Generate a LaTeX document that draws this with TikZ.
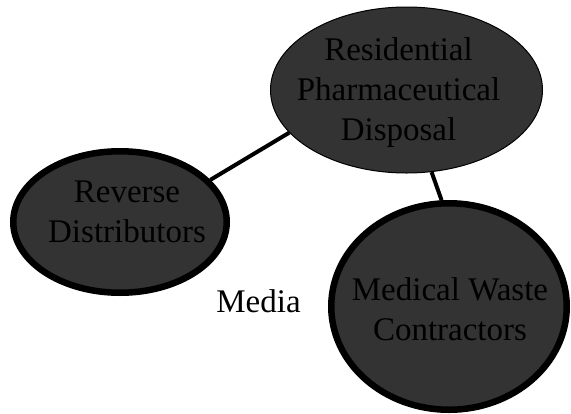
\documentclass[tikz,border=0pt]{standalone}
\usepackage{fontspec}
\setmainfont{Liberation Serif}
\newfontfamily\bubblefont{Liberation Serif}
\usepackage{tikz}
\usetikzlibrary{positioning, shapes.geometric}
\usepackage{xcolor}
\definecolor{bubblegray}{RGB}{51,51,51}

\begin{document}
\begin{tikzpicture}[x=1pt,y=-1pt,
    bubble/.style={ellipse,draw=black,fill=bubblegray,inner sep=0pt},
    bubbletext/.style={align=center,font=\bubblefont\fontsize{33}{40}\selectfont,inner sep=0pt}]
    \useasboundingbox (0,0) rectangle (571,413);

    \node[bubble,line width=1pt,minimum width=272pt,minimum height=166pt] (res) at (406.5,90) {};
    \node[bubbletext] (labelres) at (398.5,92.5) {Residential\\Pharmaceutical\\Disposal};
    \node[bubble,line width=6.5pt,minimum width=213.5pt,minimum height=141.5pt] (rev) at (120,222) {};
    \node[bubbletext] (labelrev) at (127,212) {Reverse\\Distributors};
    \node[bubble,line width=6.5pt,minimum width=235.5pt,minimum height=206.5pt] (med) at (449,306.5) {};
    \node[bubbletext] (labelmed) at (450,309) {Medical Waste\\Contractors};
    \node[bubbletext] (media) at (258.5,301) {Media};

    \path[draw,line width=4pt]
    (rev.25) edge node {} (res.200)
    (res.287) edge node {} (med.94);
  \end{tikzpicture}
\end{document}
